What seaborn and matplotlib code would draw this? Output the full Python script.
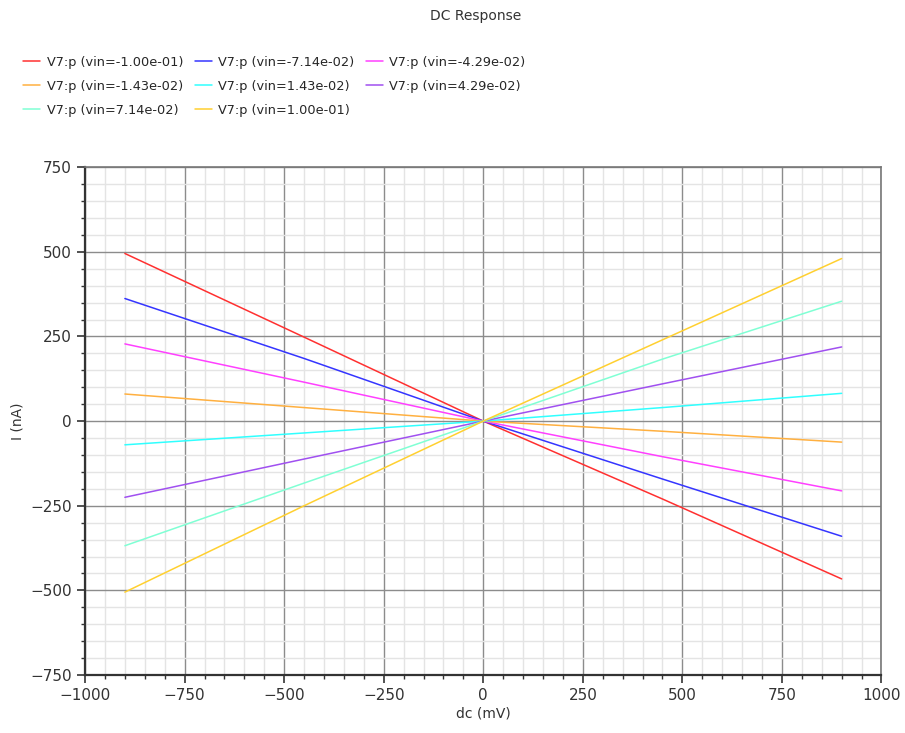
import numpy as np
import pandas as pd
import seaborn as sns
from matplotlib import pyplot as plt
from matplotlib.ticker import MultipleLocator

# sweep points (mV) and currents (nA)
dc_mv = [-900, -450, 0, 450, 900]

vin_labels = [
    "V7:p (vin=-1.00e-01)",
    "V7:p (vin=-7.14e-02)",
    "V7:p (vin=-4.29e-02)",
    "V7:p (vin=-1.43e-02)",
    "V7:p (vin=1.43e-02)",
    "V7:p (vin=4.29e-02)",
    "V7:p (vin=7.14e-02)",
    "V7:p (vin=1.00e-01)",
]

i_vin_m100 = [495, 248, 0, -230, -466]
i_vin_m714 = [362, 185, 0, -171, -340]
i_vin_m429 = [228, 115, 0, -105, -206]
i_vin_m143 = [80, 40, 0, -30, -62]
i_vin_p143 = [-70, -35, 0, 40, 82]
i_vin_p429 = [-225, -112, 0, 110, 219]
i_vin_p714 = [-368, -183, 0, 183, 354]
i_vin_p100 = [-505, -250, 0, 240, 480]

series = [i_vin_m100, i_vin_m714, i_vin_m429, i_vin_m143,
          i_vin_p143, i_vin_p429, i_vin_p714, i_vin_p100]

colors = ["#FF3030", "#3535FF", "#FF40FF", "#FFB040",
          "#30FFFF", "#A050F0", "#80FFD4", "#FFD030"]

rows = []
for label, vals in zip(vin_labels, series):
    for x, y in zip(dc_mv, vals):
        rows.append(dict(dc=x, current=y, trace=label))
df = pd.DataFrame(rows)

sns.set_style("white")
plt.rcParams["font.family"] = ["DejaVu Sans"]

fig = plt.figure(figsize=(9.05, 7.33), dpi=100)
ax = fig.add_axes([0.094, 0.079, 0.880, 0.693])

sns.lineplot(data=df, x="dc", y="current", hue="trace", hue_order=vin_labels,
             palette=colors, linewidth=1.1, ax=ax, legend=True)

ax.set_xlim(-1000, 1000)
ax.set_ylim(-750, 750)
ax.xaxis.set_major_locator(MultipleLocator(250))
ax.yaxis.set_major_locator(MultipleLocator(250))
ax.xaxis.set_minor_locator(MultipleLocator(50))
ax.yaxis.set_minor_locator(MultipleLocator(50))
ax.grid(which="major", color="#8c8c8c", linewidth=1.0)
ax.grid(which="minor", color="#e4e4e4", linewidth=1.0)
ax.set_axisbelow(True)

for side in ["left", "bottom"]:
    ax.spines[side].set_color("#333333")
    ax.spines[side].set_linewidth(1.6)
for side in ["top", "right"]:
    ax.spines[side].set_color("#777777")
    ax.spines[side].set_linewidth(1.2)

ax.tick_params(which="major", direction="out", length=6, width=1.2,
               color="#333333", labelsize=11, labelcolor="#333333",
               bottom=True, left=True)
ax.tick_params(which="minor", direction="out", length=3, width=1.0,
               color="#333333", bottom=True, left=True)
ax.set_xticks(np.arange(-1000, 1001, 250))
ax.set_xticklabels([str(v).replace("-", "\u2212") for v in range(-1000, 1001, 250)])

ax.set_xlabel("dc (mV)", fontsize=10, color="#333333", labelpad=2)
ax.set_ylabel("I (nA)", fontsize=10, color="#333333", labelpad=4)

handles, labels = ax.get_legend_handles_labels()
ax.get_legend().remove()
# legend fills row by row in the original, matplotlib fills columns
order = [0, 3, 6, 1, 4, 7, 2, 5]
fig.legend([handles[i] for i in order], [labels[i] for i in order],
           loc="upper left", bbox_to_anchor=(0.013, 0.94),
           ncol=3, frameon=False, fontsize=9.3, handlelength=1.3,
           handletextpad=0.5, columnspacing=0.9, labelspacing=0.85)

fig.text(0.525, 0.988, "DC Response", ha="center", va="top",
         fontsize=10, color="#333333")

fig.savefig("out.png", dpi=100)
